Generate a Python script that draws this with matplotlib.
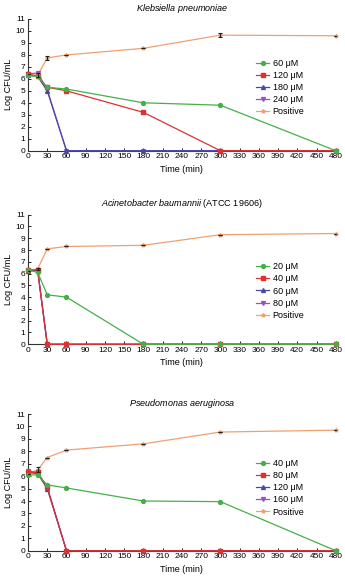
import numpy as np
import matplotlib
matplotlib.use('Agg')
import matplotlib.pyplot as plt

plt.rcParams['font.family'] = ['Liberation Sans', 'DejaVu Sans']
plt.rcParams['mathtext.fontset'] = 'custom'
plt.rcParams['mathtext.rm'] = 'Liberation Sans'
plt.rcParams['mathtext.it'] = 'Liberation Sans:italic'

times = [0, 15, 30, 60, 180, 300, 480]

# Klebsiella pneumoniae
kp_labels = ['60 \u03bcM', '120 \u03bcM', '180 \u03bcM', '240 \u03bcM', 'Positive']
kp_values = [
    [6.3, 6.2, 5.3, 5.15, 4.0, 3.8, 0],
    [6.4, 6.2, 5.3, 5.0, 3.2, 0, 0],
    [6.3, 6.2, 5.0, 0, 0, 0, 0],
    [6.4, 6.5, 5.1, 0, 0, 0, 0],
    [6.4, 6.3, 7.75, 8.0, 8.55, 9.65, 9.6],
]
kp_pos_err = [0, 0.15, 0.15, 0, 0, 0.15, 0]

# Acinetobacter baumannii (ATCC 19606)
ab_labels = ['20 \u03bcM', '40 \u03bcM', '60 \u03bcM', '80 \u03bcM', 'Positive']
ab_values = [
    [6.3, 6.1, 4.2, 4.0, 0, 0, 0],
    [6.3, 6.3, 0, 0, 0, 0, 0],
    [6.2, 6.3, 0, 0, 0, 0, 0],
    [6.3, 6.3, 0, 0, 0, 0, 0],
    [6.2, 6.4, 8.1, 8.3, 8.4, 9.3, 9.4],
]
ab_pos_err = [0, 0.1, 0, 0, 0, 0, 0]

# Pseudomonas aeruginosa
pa_labels = ['40 \u03bcM', '80 \u03bcM', '120 \u03bcM', '160 \u03bcM', 'Positive']
pa_values = [
    [6.1, 6.1, 5.3, 5.05, 4.0, 3.95, 0],
    [6.3, 6.3, 5.1, 0, 0, 0, 0],
    [6.3, 6.2, 5.0, 0, 0, 0, 0],
    [6.4, 6.3, 5.1, 0, 0, 0, 0],
    [6.2, 6.5, 7.5, 8.1, 8.6, 9.55, 9.7],
]
pa_pos_err = [0, 0.2, 0, 0, 0, 0, 0]

colors = ['#45b048', '#e03030', '#4848a8', '#9a50c0', '#f0a070']
markers = ['o', 's', '^', 'v', '*']

fig = plt.figure(figsize=(3.45, 5.88), dpi=100)

panels = [
    (r'$\it{Klebsiella\ pneumoniae}$', kp_labels, kp_values, kp_pos_err,
     [0.0812, 0.7437, 0.892, 0.224], (0.73, 0.48)),
    (r'$\it{Acinetobacter\ baumannii}$ (ATCC 19606)', ab_labels, ab_values, ab_pos_err,
     [0.0812, 0.4145, 0.892, 0.2204], (0.73, 0.41)),
    (r'$\it{Pseudomonas\ aeruginosa}$', pa_labels, pa_values, pa_pos_err,
     [0.0812, 0.0634, 0.892, 0.2325], (0.73, 0.46)),
]

for title, labels, values, pos_err, rect, leg_xy in panels:
    ax = fig.add_axes(rect)
    handles = []
    for i in reversed(range(5)):
        h, = ax.plot(times, values[i], color=colors[i], marker=markers[i],
                     markersize=2.8, linewidth=0.9, clip_on=False,
                     zorder=3 + (4 - i))
        handles.append(h)
    ax.errorbar(times, values[4], yerr=pos_err, fmt='none', ecolor='#222222',
                elinewidth=0.8, capsize=1.5, capthick=0.8, zorder=10)
    handles = handles[::-1]
    ax.set_xlim(0, 480)
    ax.set_ylim(0, 11)
    ax.set_xticks(np.arange(0, 481, 30))
    ax.set_yticks(np.arange(0, 12, 1))
    ax.tick_params(labelsize=6, length=2, width=0.6, pad=2, direction='in')
    for s in ['top', 'right']:
        ax.spines[s].set_visible(False)
    for s in ['left', 'bottom']:
        ax.spines[s].set_linewidth(0.8)
        ax.spines[s].set_color('#333333')
    ax.set_xlabel('Time (min)', fontsize=6.5, labelpad=3)
    ax.set_ylabel('Log CFU/mL', fontsize=6.5, labelpad=2)
    ax.set_title(title, fontsize=6.5, pad=6)
    ax.legend(handles, labels, loc='center left', bbox_to_anchor=leg_xy,
              frameon=False, fontsize=6.5, handlelength=1.4, labelspacing=0.35,
              handletextpad=0.4, borderaxespad=0)

fig.savefig('out.png', dpi=100)
